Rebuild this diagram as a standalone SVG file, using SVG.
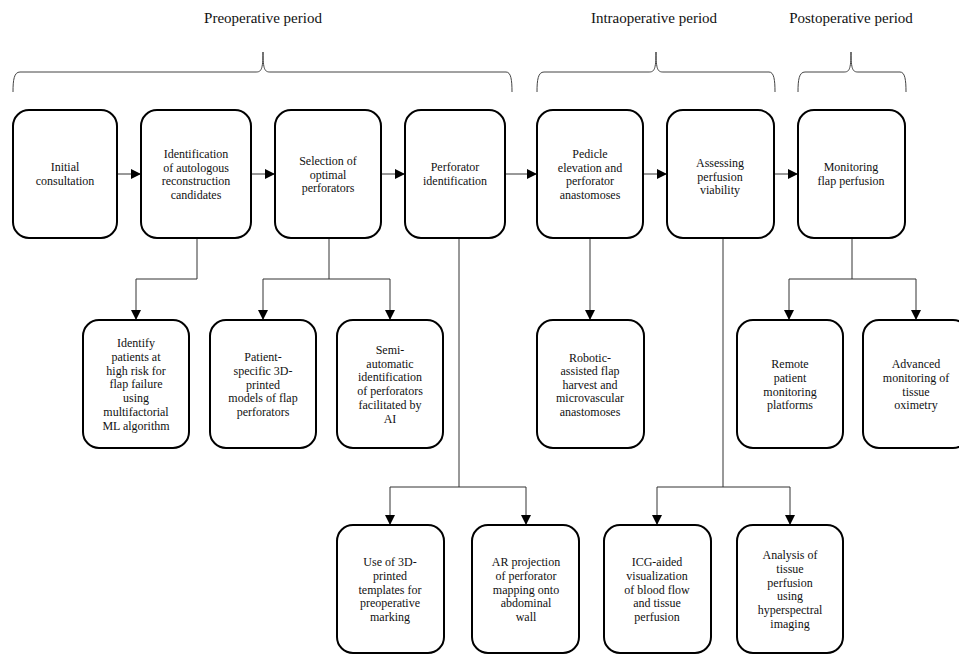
<svg xmlns="http://www.w3.org/2000/svg" width="959" height="654" viewBox="0 0 959 654">
<style>
.box{fill:#fff;stroke:#000;stroke-width:2}
.t{font-family:Tinos,'Liberation Serif','Times New Roman',Times,'Noto Serif','DejaVu Serif',FreeSerif,Georgia,serif;font-size:12px;fill:#111;text-anchor:middle}
.h{font-family:Tinos,'Liberation Serif','Times New Roman',Times,'Noto Serif','DejaVu Serif',FreeSerif,Georgia,serif;font-size:15px;fill:#111;text-anchor:middle}
.c{fill:none;stroke:#333;stroke-width:1}
.br{fill:none;stroke:#444;stroke-width:1}
</style>
<defs>
<marker id="ah" viewBox="0 0 10 10" refX="10" refY="5" markerWidth="10" markerHeight="10" markerUnits="userSpaceOnUse" orient="auto">
<path d="M0,0 L10,5 L0,10 z" fill="#000"/>
</marker>
</defs>
<rect width="959" height="654" fill="#fff"/>
<g id="periods">
<text class="h" x="263" y="23">Preoperative period</text>
<text class="h" x="654" y="23">Intraoperative period</text>
<text class="h" x="851" y="23">Postoperative period</text>
<path class="br" d="M13,92 C13,80 14,72 20,72 L256,72 C261,72 263,70 263,52 C263,70 265,72 270,72 L506,72 C511,72 512,80 512,92"/>
<path class="br" d="M537,92 C537,80 538,72 544,72 L649,72 C654,72 656,70 656,52 C656,70 658,72 663,72 L769,72 C774,72 775,80 775,92"/>
<path class="br" d="M798,92 C798,80 799,72 805,72 L844,72 C849,72 851,70 851,52 C851,70 853,72 858,72 L900,72 C905,72 906,80 906,92"/>
</g>
<g id="connectors">
<line class="c" x1="117" y1="174" x2="141" y2="174" marker-end="url(#ah)"/>
<line class="c" x1="251" y1="174" x2="275" y2="174" marker-end="url(#ah)"/>
<line class="c" x1="381" y1="174" x2="405" y2="174" marker-end="url(#ah)"/>
<line class="c" x1="505" y1="174" x2="537" y2="174" marker-end="url(#ah)"/>
<line class="c" x1="643" y1="174" x2="667" y2="174" marker-end="url(#ah)"/>
<line class="c" x1="774" y1="174" x2="798" y2="174" marker-end="url(#ah)"/>
<path class="c" d="M197,238 V279 H136 V320" marker-end="url(#ah)"/>
<path class="c" d="M329,238 V279 H263 V320" marker-end="url(#ah)"/>
<path class="c" d="M329,279 H390 V320" marker-end="url(#ah)"/>
<path class="c" d="M459,238 V487 H390 V525" marker-end="url(#ah)"/>
<path class="c" d="M459,487 H526 V525" marker-end="url(#ah)"/>
<path class="c" d="M590,238 V320" marker-end="url(#ah)"/>
<path class="c" d="M723,238 V487 H657 V525" marker-end="url(#ah)"/>
<path class="c" d="M723,487 H790 V525" marker-end="url(#ah)"/>
<path class="c" d="M852,238 V279 H789 V320" marker-end="url(#ah)"/>
<path class="c" d="M852,279 H916 V320" marker-end="url(#ah)"/>
</g>
<g id="n1"><rect class="box" x="13" y="110" width="104" height="128" rx="16"/>
<text class="t" x="65" y="171">Initial</text><text class="t" x="65" y="185">consultation</text></g>
<g id="n2"><rect class="box" x="141" y="110" width="110" height="128" rx="16"/>
<text class="t" x="196" y="158">Identification</text><text class="t" x="196" y="172">of autologous</text><text class="t" x="196" y="185">reconstruction</text><text class="t" x="196" y="199">candidates</text></g>
<g id="n3"><rect class="box" x="275" y="110" width="106" height="128" rx="16"/>
<text class="t" x="328" y="165">Selection of</text><text class="t" x="328" y="179">optimal</text><text class="t" x="328" y="192">perforators</text></g>
<g id="n4"><rect class="box" x="405" y="110" width="100" height="128" rx="16"/>
<text class="t" x="455" y="171">Perforator</text><text class="t" x="455" y="185">identification</text></g>
<g id="n5"><rect class="box" x="537" y="110" width="106" height="128" rx="16"/>
<text class="t" x="590" y="158">Pedicle</text><text class="t" x="590" y="172">elevation and</text><text class="t" x="590" y="185">perforator</text><text class="t" x="590" y="199">anastomoses</text></g>
<g id="n6"><rect class="box" x="667" y="110" width="107" height="128" rx="16"/>
<text class="t" x="720" y="167">Assessing</text><text class="t" x="720" y="181">perfusion</text><text class="t" x="720" y="194">viability</text></g>
<g id="n7"><rect class="box" x="798" y="110" width="107" height="128" rx="16"/>
<text class="t" x="851" y="171">Monitoring</text><text class="t" x="851" y="185">flap perfusion</text></g>
<g id="b1"><rect class="box" x="83" y="320" width="106" height="128" rx="16"/>
<text class="t" x="136" y="347">Identify</text><text class="t" x="136" y="361">patients at</text><text class="t" x="136" y="375">high risk for</text><text class="t" x="136" y="388">flap failure</text><text class="t" x="136" y="402">using</text><text class="t" x="136" y="416">multifactorial</text><text class="t" x="136" y="430">ML algorithm</text></g>
<g id="b2"><rect class="box" x="210" y="320" width="106" height="128" rx="16"/>
<text class="t" x="263" y="361">Patient-</text><text class="t" x="263" y="375">specific 3D-</text><text class="t" x="263" y="389">printed</text><text class="t" x="263" y="402">models of flap</text><text class="t" x="263" y="416">perforators</text></g>
<g id="b3"><rect class="box" x="337" y="320" width="106" height="128" rx="16"/>
<text class="t" x="390" y="354">Semi-</text><text class="t" x="390" y="368">automatic</text><text class="t" x="390" y="381">identification</text><text class="t" x="390" y="395">of perforators</text><text class="t" x="390" y="409">facilitated by</text><text class="t" x="390" y="423">AI</text></g>
<g id="b4"><rect class="box" x="537" y="320" width="107" height="128" rx="16"/>
<text class="t" x="590" y="362">Robotic-</text><text class="t" x="590" y="375">assisted flap</text><text class="t" x="590" y="389">harvest and</text><text class="t" x="590" y="402">microvascular</text><text class="t" x="590" y="416">anastomoses</text></g>
<g id="b5"><rect class="box" x="737" y="320" width="106" height="128" rx="16"/>
<text class="t" x="790" y="368">Remote</text><text class="t" x="790" y="382">patient</text><text class="t" x="790" y="396">monitoring</text><text class="t" x="790" y="409">platforms</text></g>
<g id="b6"><rect class="box" x="863" y="320" width="106" height="128" rx="16"/>
<text class="t" x="916" y="368">Advanced</text><text class="t" x="916" y="382">monitoring of</text><text class="t" x="916" y="396">tissue</text><text class="t" x="916" y="409">oximetry</text></g>
<g id="c1"><rect class="box" x="337" y="525" width="107" height="128" rx="16"/>
<text class="t" x="390" y="566">Use of 3D-</text><text class="t" x="390" y="580">printed</text><text class="t" x="390" y="594">templates for</text><text class="t" x="390" y="607">preoperative</text><text class="t" x="390" y="621">marking</text></g>
<g id="c2"><rect class="box" x="472" y="525" width="107" height="128" rx="16"/>
<text class="t" x="526" y="566">AR projection</text><text class="t" x="526" y="580">of perforator</text><text class="t" x="526" y="594">mapping onto</text><text class="t" x="526" y="607">abdominal</text><text class="t" x="526" y="621">wall</text></g>
<g id="c3"><rect class="box" x="604" y="525" width="107" height="128" rx="16"/>
<text class="t" x="657" y="566">ICG-aided</text><text class="t" x="657" y="580">visualization</text><text class="t" x="657" y="594">of blood flow</text><text class="t" x="657" y="607">and tissue</text><text class="t" x="657" y="621">perfusion</text></g>
<g id="c4"><rect class="box" x="737" y="525" width="106" height="128" rx="16"/>
<text class="t" x="790" y="559">Analysis of</text><text class="t" x="790" y="573">tissue</text><text class="t" x="790" y="587">perfusion</text><text class="t" x="790" y="600">using</text><text class="t" x="790" y="614">hyperspectral</text><text class="t" x="790" y="628">imaging</text></g>
</svg>
